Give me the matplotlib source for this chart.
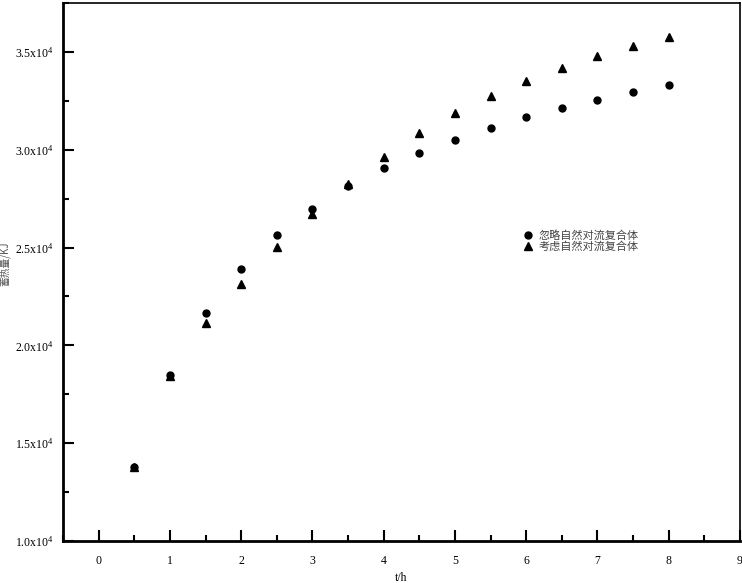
import numpy as np
import matplotlib
matplotlib.use('Agg')
from matplotlib import pyplot as plt
from matplotlib.ticker import MultipleLocator, FuncFormatter

# 时间 t/h
hours = [0.5, 1, 1.5, 2, 2.5, 3, 3.5, 4, 4.5, 5, 5.5, 6, 6.5, 7, 7.5, 8]
# 忽略自然对流复合体 (KJ)
ignore_conv = [13790, 18500, 21650, 23900, 25650, 26980, 28150, 29050,
               29830, 30500, 31110, 31650, 32130, 32540, 32950, 33300]
# 考虑自然对流复合体 (KJ)
with_conv = [13790, 18450, 21120, 23120, 25010, 26720, 28260, 29620,
             30850, 31880, 32750, 33510, 34180, 34790, 35310, 35770]

labels = ['忽略自然对流复合体', '考虑自然对流复合体']
xlabel = 't/h'
ylabel = '蓄热量/KJ'

plt.rcParams['mathtext.fontset'] = 'custom'
plt.rcParams['mathtext.rm'] = 'Liberation Serif'
plt.rcParams['mathtext.it'] = 'Liberation Serif'

fig = plt.figure(figsize=(7.42, 5.83), dpi=100)
ax = fig.add_axes([63 / 742, 1 - 541 / 583, 677 / 742, 538 / 583])

ax.plot(hours, ignore_conv, 'o', color='black', ms=5, label=labels[0])
ax.plot(hours, with_conv, '^', color='black', ms=5.5, label=labels[1])

ax.set_xlim(-0.5, 9)
ax.set_ylim(10000, 37500)

ax.xaxis.set_major_locator(MultipleLocator(1))
ax.xaxis.set_minor_locator(MultipleLocator(0.5))
ax.yaxis.set_major_locator(MultipleLocator(5000))
ax.yaxis.set_minor_locator(MultipleLocator(2500))
ax.yaxis.set_major_formatter(FuncFormatter(lambda v, p: f'{v / 1e4:.1f}x10$^{{4}}$'))

ax.tick_params(which='both', direction='in', top=False, right=False, width=1.5)
ax.tick_params(which='major', length=8)
ax.tick_params(axis='x', which='major', pad=10)
ax.tick_params(axis='y', which='major', pad=7)
ax.tick_params(which='minor', length=4)
for lab in ax.get_xticklabels() + ax.get_yticklabels():
    lab.set_fontfamily('Liberation Serif')
    lab.set_fontsize(8.5)

for s in ['left', 'bottom']:
    ax.spines[s].set_linewidth(2)
for s in ['top', 'right']:
    ax.spines[s].set_linewidth(1.2)

ax.set_xlabel(xlabel, fontfamily='Liberation Serif', fontsize=8.5)
ax.xaxis.set_label_coords(0.5, -0.057)
ax.set_ylabel(ylabel, fontfamily=['Noto Sans CJK SC', 'DejaVu Sans'], fontsize=7,
              color='#555555')
ax.yaxis.set_label_coords(-0.077, 0.515)

leg = ax.legend(loc='center left', bbox_to_anchor=(0.67, 0.558), frameon=False,
                prop={'family': ['Noto Sans CJK SC', 'DejaVu Sans'], 'size': 8},
                handlelength=1, handletextpad=0.5, labelspacing=0.0, borderpad=0)
for t in leg.get_texts():
    t.set_color('#444444')

plt.savefig('out.png', dpi=100)
